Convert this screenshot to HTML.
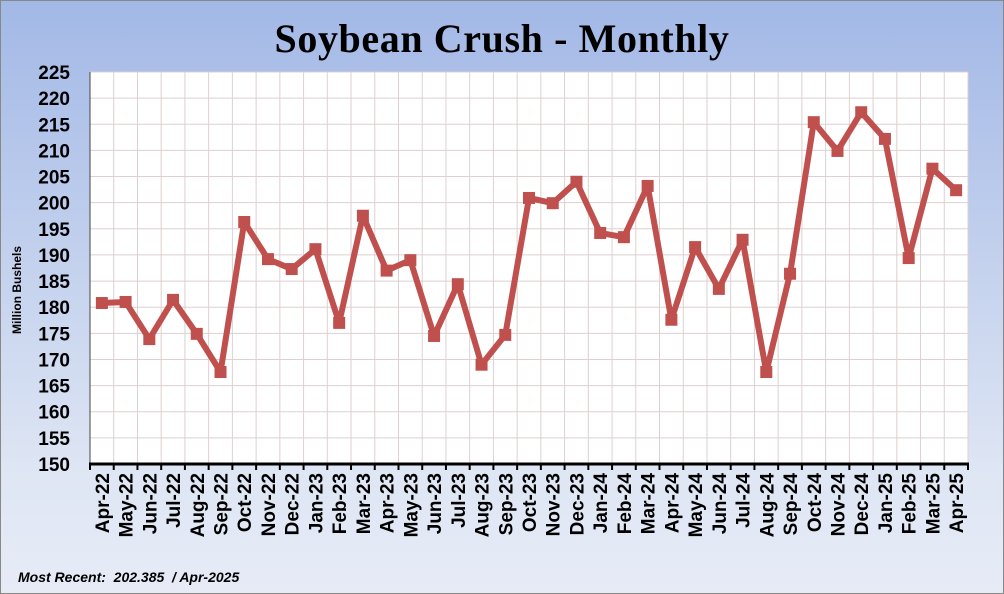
<!DOCTYPE html>
<html><head><meta charset="utf-8"><style>
html,body{margin:0;padding:0}
body{width:1004px;height:594px;overflow:hidden;font-family:"Liberation Sans",sans-serif}
#frame{position:absolute;left:0;top:0;width:1002px;height:592px;border:1px solid #888;background:linear-gradient(#a2b8e6,#dfe6f4 80%,#e6ebf6)}
</style></head><body>
<div id="frame">
<svg id="chart" width="1004" height="594" style="position:absolute;left:-1px;top:-1px"></svg>
</div>
<script>
const categories=["Apr-22","May-22","Jun-22","Jul-22","Aug-22","Sep-22","Oct-22","Nov-22","Dec-22","Jan-23","Feb-23","Mar-23","Apr-23","May-23","Jun-23","Jul-23","Aug-23","Sep-23","Oct-23","Nov-23","Dec-23","Jan-24","Feb-24","Mar-24","Apr-24","May-24","Jun-24","Jul-24","Aug-24","Sep-24","Oct-24","Nov-24","Dec-24","Jan-25","Feb-25","Mar-25","Apr-25"];
const values=[180.8,181,173.9,181.4,174.9,167.6,196.3,189.2,187.3,191.1,177,197.5,187,189,174.5,184.4,169,174.7,200.9,199.9,204,194.2,193.4,203.2,177.6,191.5,183.5,192.9,167.6,186.4,215.4,209.9,217.3,212.2,189.4,206.5,202.385];
const yTicks=[150,155,160,165,170,175,180,185,190,195,200,205,210,215,220,225];
const ns="http://www.w3.org/2000/svg";
const svg=document.getElementById('chart');
const L=90,R=968,T=72,B=464,yMin=150,yMax=225;
const bw=(R-L)/categories.length;
function xs(i){return L+bw*(i+0.5);}
function ys(v){return B-(v-yMin)/(yMax-yMin)*(B-T);}
function mk(t,a){const e=document.createElementNS(ns,t);for(const k in a)e.setAttribute(k,a[k]);svg.appendChild(e);return e;}
let e=mk('text',{x:502,y:52,'text-anchor':'middle','font-family':'Liberation Serif, serif','font-weight':'bold','font-size':40,'letter-spacing':0.6,fill:'#000'});
e.textContent='Soybean Crush - Monthly';


e=mk('rect',{x:L,y:T,width:R-L,height:B-T,fill:'#fff'});


yTicks.forEach(v=>{
 const l=mk('line',{x1:L,x2:R,y1:ys(v),y2:ys(v),stroke:'#ddd0d0','stroke-width':1});
 
 
 const t=mk('text',{x:70,y:ys(v)+7,'text-anchor':'end','font-weight':'bold','font-size':19,fill:'#000'});
 t.textContent=v;
 
 
});
categories.forEach((c,i)=>{
 const gx=L+bw*(i+1);
 const g=mk('line',{x1:gx,x2:gx,y1:T,y2:B,stroke:'#ddd0d0','stroke-width':1});
 
 
 const tk=mk('line',{x1:L+bw*i,x2:L+bw*i,y1:B,y2:B+6,stroke:'#000','stroke-width':2});
 
 
 const t=mk('text',{transform:`translate(${xs(i)+7},${B+9}) rotate(-90)`,'text-anchor':'end','font-weight':'bold','font-size':19,fill:'#000'});
 t.textContent=c;
 
 
});
e=mk('line',{x1:R,x2:R,y1:B,y2:B+6,stroke:'#000','stroke-width':2});


e=mk('line',{x1:L,x2:L,y1:T,y2:B,stroke:'#444','stroke-width':1});


e=mk('line',{x1:L-1,x2:R+1,y1:B,y2:B,stroke:'#000','stroke-width':3});


e=mk('text',{transform:'translate(21,290) rotate(-90)','text-anchor':'middle','font-weight':'bold','font-size':12,fill:'#000'});
e.textContent='Million Bushels';


e=mk('polyline',{points:values.map((v,i)=>xs(i)+','+ys(v)).join(' '),fill:'none',stroke:'#c0504d','stroke-width':6,'stroke-linejoin':'round'});


values.forEach((v,i)=>{
 const m=mk('rect',{x:xs(i)-6,y:ys(v)-6,width:12,height:12,fill:'#c0504d'});
 
 
});
e=mk('text',{x:18,y:582,'font-weight':'bold','font-style':'italic','font-size':14,fill:'#000',style:'white-space:pre'});
e.textContent='Most Recent:  202.385  / Apr-2025';


</script>
</body></html>
